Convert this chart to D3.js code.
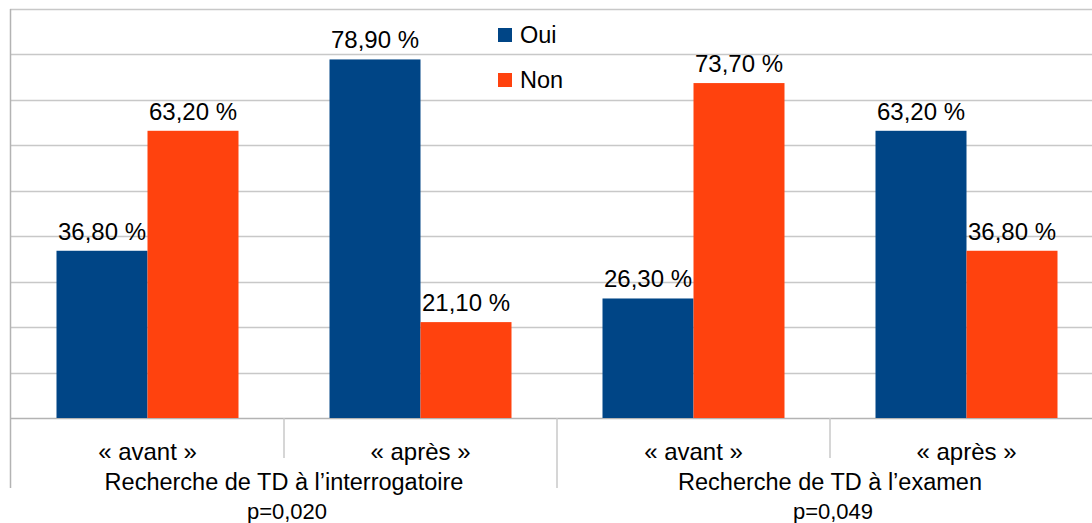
<!DOCTYPE html>
<html>
<head>
<meta charset="utf-8">
<script src="https://cdn.jsdelivr.net/npm/d3@7"></script>
<style>
  body { margin: 0; background: #fff; }
  svg { display: block; font-family: 'Liberation Sans', Arial, sans-serif; }
</style>
</head>
<body>
<div id="chart"></div>
<script>
const subCategories = ['« avant »', '« après »', '« avant »', '« après »'];
const groups = ['Recherche de TD à l’interrogatoire', 'Recherche de TD à l’examen'];
const pValues = ['p=0,020', 'p=0,049'];
const seriesNames = ['Oui', 'Non'];
const ouiValues = [36.8, 78.9, 26.3, 63.2];
const nonValues = [63.2, 21.1, 73.7, 36.8];
const yTicks = [0, 10, 20, 30, 40, 50, 60, 70, 80, 90];

const width = 1092;
const height = 523;
const colors = { Oui: '#004586', Non: '#ff420e' };

const fr = d3.formatLocale({ decimal: ',', thousands: '\u00a0', grouping: [3], currency: ['', ' €'] });
const fmt = (v) => `${fr.format('.2f')(v)} %`;

const svg = d3.select('#chart').append('svg')
  .attr('width', width)
  .attr('height', height);

const plotLeft = 11;
const plotRight = 1103;
const plotTop = 9;
const plotBottom = 418;

const x = d3.scaleBand().domain(d3.range(subCategories.length)).range([plotLeft, plotRight]);
const xInner = d3.scaleBand().domain(seriesNames).range([0, x.bandwidth()]).paddingOuter(0.5);
const y = d3.scaleLinear().domain([0, 90]).range([plotBottom, plotTop]);

// grid
svg.append('g')
  .selectAll('line')
  .data(yTicks)
  .enter().append('line')
  .attr('x1', plotLeft - 1)
  .attr('x2', plotRight)
  .attr('y1', (d) => Math.round(y(d)) + 0.5)
  .attr('y2', (d) => Math.round(y(d)) + 0.5)
  .style('stroke', (d) => (d === 0 ? '#b3b3b3' : '#c8c8c8'))
  .style('stroke-width', 1.5);

// left axis line
svg.append('line')
  .attr('x1', plotLeft - 0.5).attr('x2', plotLeft - 0.5)
  .attr('y1', plotTop).attr('y2', 488)
  .style('stroke', '#b3b3b3')
  .style('stroke-width', 1.5);

// separators below the axis
subCategories.forEach((c, i) => {
  if (i === 0) return;
  const isGroup = i % 2 === 0;
  svg.append('line')
    .attr('x1', x(i)).attr('x2', x(i))
    .attr('y1', plotBottom).attr('y2', isGroup ? 488 : 458)
    .style('stroke', '#c8c8c8')
    .style('stroke-width', 1.5);
});

// bars
const data = subCategories.map((c, i) => ({ i, Oui: ouiValues[i], Non: nonValues[i] }));

const cat = svg.selectAll('.cat')
  .data(data)
  .enter().append('g')
  .attr('class', 'cat')
  .attr('transform', (d) => `translate(${x(d.i)},0)`);

seriesNames.forEach((s) => {
  cat.append('rect')
    .attr('x', xInner(s))
    .attr('y', (d) => y(d[s]))
    .attr('width', xInner.bandwidth())
    .attr('height', (d) => plotBottom - y(d[s]))
    .style('fill', colors[s]);

  cat.append('text')
    .attr('x', xInner(s) + xInner.bandwidth() / 2)
    .attr('y', (d) => y(d[s]) - 11)
    .attr('text-anchor', 'middle')
    .attr('font-size', 24)
    .attr('fill', '#000')
    .text((d) => fmt(d[s]));
});

// category labels
svg.selectAll('.sub-label')
  .data(subCategories)
  .enter().append('text')
  .attr('class', 'sub-label')
  .attr('x', (d, i) => x(i) + x.bandwidth() / 2)
  .attr('y', 460)
  .attr('text-anchor', 'middle')
  .attr('font-size', 24)
  .text((d) => d);

groups.forEach((g, gi) => {
  const cx = (x(gi * 2) + x(gi * 2 + 1) + x.bandwidth()) / 2;
  svg.append('text')
    .attr('x', cx)
    .attr('y', 490)
    .attr('text-anchor', 'middle')
    .attr('font-size', 23.5)
    .text(g);
  svg.append('text')
    .attr('x', cx + 3)
    .attr('y', 519)
    .attr('text-anchor', 'middle')
    .attr('font-size', 22)
    .text(pValues[gi]);
});

// legend
const legend = svg.append('g').attr('transform', 'translate(498,28)');
seriesNames.forEach((s, i) => {
  legend.append('rect')
    .attr('x', 0)
    .attr('y', i * 45)
    .attr('width', 14)
    .attr('height', 14)
    .style('fill', colors[s]);
  legend.append('text')
    .attr('x', 22)
    .attr('y', i * 45 + 15)
    .attr('font-size', 23.5)
    .text(s);
});
</script>
</body>
</html>
